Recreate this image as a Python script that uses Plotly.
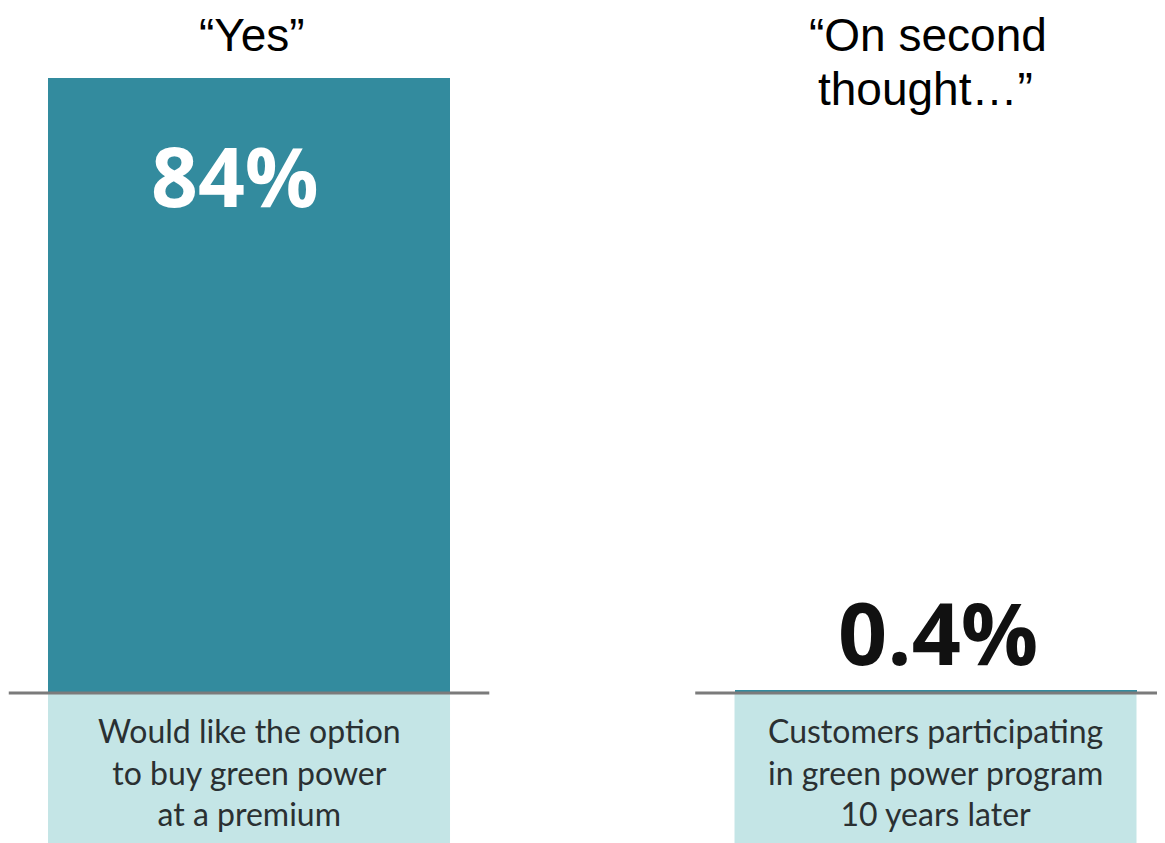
import plotly.graph_objects as go

# ---- data ----
headers = ["“Yes”", "“On second<br>thought…”"]
values = [84, 0.4]
value_labels = ["84%", "0.4%"]
descriptions = [
    "Would like the option<br>to buy green power<br>at a premium",
    "Customers participating<br>in green power program<br>10 years later",
]
positions = [0, 1]

DARK = "#338B9E"
LIGHT = "#C4E5E6"
LINE = "#7B7B7B"
BAR_W = 0.5856

fig = go.Figure()
fig.add_trace(go.Bar(
    x=positions, y=values, width=BAR_W,
    marker=dict(color=DARK, line=dict(width=0)),
    hoverinfo="skip", showlegend=False,
))

YMIN, YMAX = -20.49, 93.56

shapes = []
annotations = []
for i, (p, v) in enumerate(zip(positions, values)):
    # light label box under baseline
    shapes.append(dict(type="rect", xref="x", yref="y",
                       x0=p - BAR_W / 2, x1=p + BAR_W / 2, y0=0, y1=YMIN - 5,
                       fillcolor=LIGHT, line=dict(width=0), layer="below"))
    # baseline
    shapes.append(dict(type="line", xref="x", yref="y",
                       x0=p - 0.35, x1=p + 0.35, y0=0, y1=0,
                       line=dict(color=LINE, width=3), layer="above"))
    # description text
    annotations.append(dict(x=p, y=0, xref="x", yref="y", yanchor="top",
                            yshift=-16, text=descriptions[i], showarrow=False,
                            font=dict(family="Lato", size=32, color="#2A3032"),
                            align="center"))

# value labels
annotations.append(dict(x=positions[0], y=values[0], xref="x", yref="y",
                        yanchor="top", yshift=-39, xshift=-14,
                        text=f"<b>{value_labels[0]}</b>", showarrow=False,
                        font=dict(family="Open Sans", size=82, color="white")))
annotations.append(dict(x=positions[1], y=values[1], xref="x", yref="y",
                        yanchor="bottom", yshift=-2, xshift=2,
                        text=f"<b>{value_labels[1]}</b>", showarrow=False,
                        font=dict(family="Open Sans", size=86, color="#111111")))

# headers
hfont = dict(family="Liberation Sans, Arial", size=46, color="black")
annotations.append(dict(x=positions[0], y=1, xref="x", yref="paper",
                        yanchor="top", yshift=1, xshift=3,
                        text=headers[0], showarrow=False, font=hfont))
h2 = headers[1].split("<br>")
annotations.append(dict(x=positions[1], y=1, xref="x", yref="paper",
                        yanchor="top", yshift=1, xshift=-8,
                        text=h2[0], showarrow=False, font=hfont))
annotations.append(dict(x=positions[1], y=1, xref="x", yref="paper",
                        yanchor="top", yshift=-53, xshift=-10,
                        text=h2[1], showarrow=False, font=hfont))

fig.update_layout(
    width=1157, height=835,
    margin=dict(l=0, r=0, t=0, b=0),
    paper_bgcolor="white", plot_bgcolor="white",
    shapes=shapes, annotations=annotations,
    xaxis=dict(range=[-0.3511, 1.3343], visible=False, fixedrange=True),
    yaxis=dict(range=[YMIN, YMAX], visible=False, fixedrange=True),
    bargap=0,
)

fig.write_html("out.html")
